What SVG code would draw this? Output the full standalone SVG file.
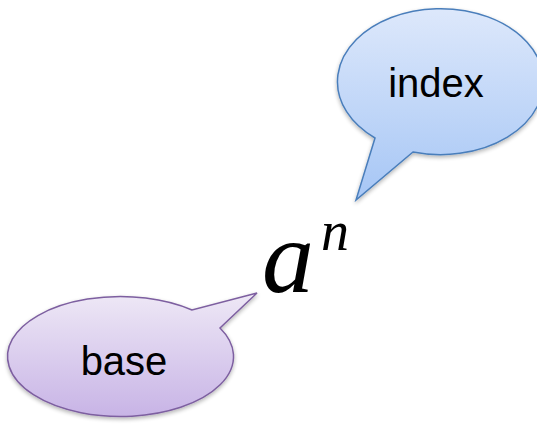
<svg xmlns="http://www.w3.org/2000/svg" width="537" height="425" viewBox="0 0 537 425">
<defs>
<linearGradient id="gBlue" x1="0" y1="0" x2="0" y2="1">
<stop offset="0" stop-color="#dde8fb"/>
<stop offset="1" stop-color="#a6c6f5"/>
</linearGradient>
<linearGradient id="gPurple" x1="0" y1="0" x2="0" y2="1">
<stop offset="0" stop-color="#eee8f6"/>
<stop offset="1" stop-color="#c8b4e6"/>
</linearGradient>
<filter id="sh" x="-10%" y="-10%" width="120%" height="130%">
<feGaussianBlur in="SourceAlpha" stdDeviation="2"/>
<feOffset dx="0" dy="2" result="b"/>
<feComponentTransfer><feFuncA type="linear" slope="0.3"/></feComponentTransfer>
<feMerge><feMergeNode/><feMergeNode in="SourceGraphic"/></feMerge>
</filter>
</defs>
<style>
.lbl{font-family:"Liberation Sans",Arial,sans-serif;font-size:40px;fill:#000;text-anchor:middle}
.math{font-family:"Liberation Serif","Times New Roman",serif;font-style:italic;fill:#000}
</style>
<g id="index">
<path d="M375,138 A103,73 0 1 1 413,152 L356,200 Z" fill="url(#gBlue)" stroke="#4a7ebb" stroke-width="1.5" filter="url(#sh)"/>
<text class="lbl" x="436" y="97">index</text>
</g>
<g id="base">
<path d="M220,328 A113,60 0 1 1 192,310 L257,293 Z" fill="url(#gPurple)" stroke="#7d5fa0" stroke-width="1.5" filter="url(#sh)"/>
<text class="lbl" x="124" y="375">base</text>
</g>
<g id="expr">
<text class="math" x="262" y="292" font-size="104">a</text>
<text class="math" x="321" y="250" font-size="56">n</text>
</g>
</svg>
